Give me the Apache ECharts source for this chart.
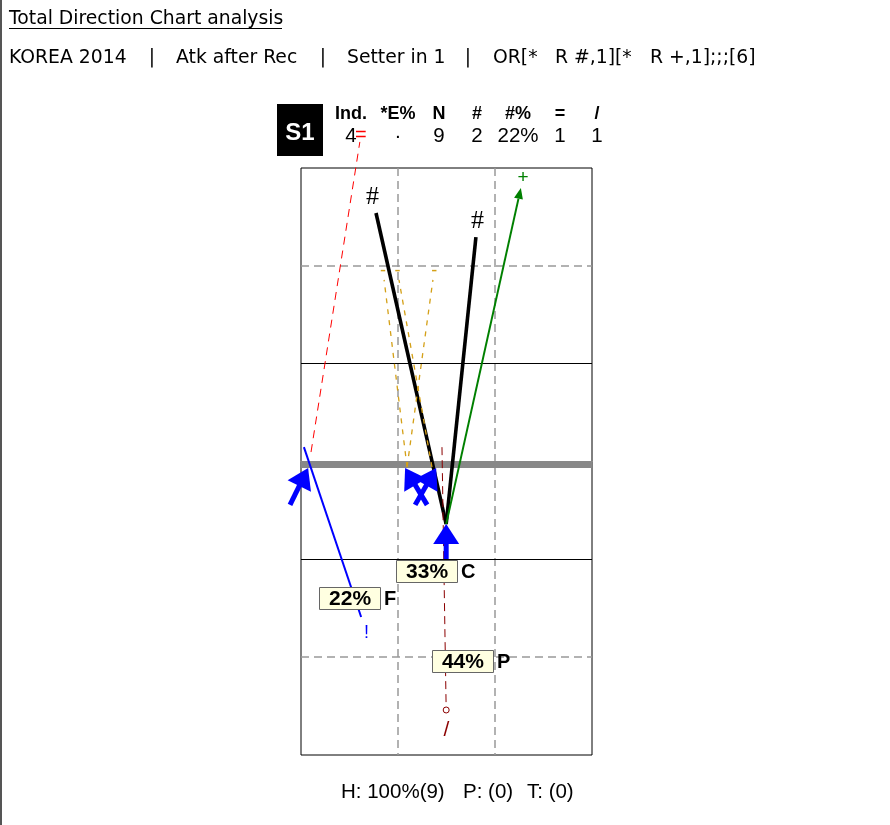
<!DOCTYPE html>
<html><head><meta charset="utf-8">
<script src="https://cdn.jsdelivr.net/npm/echarts@6/dist/echarts.min.js"></script>
<style>html,body{margin:0;padding:0;background:#fff}#c{width:890px;height:825px}</style>
</head><body><div id="c"></div>
<script>
// ---------- data ----------
const titleText = 'Total Direction Chart analysis';
const filterParts = ['KOREA 2014', '|', 'Atk after Rec', '|', 'Setter in 1', '|', 'OR[*', 'R #,1][*', 'R +,1];;;[6]'];
const rotationName = 'S1';
const tableHeaders = ['Ind.', '*E%', 'N', '#', '#%', '=', '/'];
const indValue = '4';
const effValue = '·';

// attacks (court metres: x 0..9 across, y 0..18 from far end line)
const attackZone = ['C', 'C', 'C', 'F', 'F', 'P', 'P', 'P', 'P'];
const attackCode = ['#', '#', '+', '=', '!', '/', '-', '-', '-'];
const attackFrom = [[4.49, 10.92], [4.49, 10.92], [4.49, 10.92], [0.31, 8.71], [0.09, 8.56], [4.36, 8.56], [3.28, 9.17], [3.28, 9.17], [4.05, 9.17]];
const attackTo = [[2.32, 1.38], [5.41, 2.12], [6.80, 0.61], [1.82, -0.80], [1.86, 13.77], [4.49, 16.62], [2.57, 3.43], [4.08, 3.43], [3.03, 3.43]];

// start-direction arrows
const arrowTail = [[-0.34, 10.33], [3.90, 10.33], [3.53, 10.33], [4.49, 11.99]];
const arrowTip = [[0.22, 9.20], [3.22, 9.20], [4.18, 9.20], [4.49, 10.92]];

// zone labels
const zoneNames = ['C', 'F', 'P'];
const zoneLabelAt = [[2.94, 12.36], [0.56, 13.19], [4.05, 15.12]];

// court structure
const courtDashX = [3, 6];
const courtDashY = [3, 15];
const attackLineY = [6, 12];
const netY = 9.08;

// footer counts
const pCount = 0, tCount = 0;

// ---------- styles ----------
const codeStyle = {
  '#': { color: '#000000', width: 3.6, dash: null, head: 0, circle: false, font: '26px "Liberation Serif"', gap: 16 },
  '+': { color: '#008000', width: 2, dash: null, head: 11, circle: false, font: '19px "Liberation Sans"', gap: 10 },
  '=': { color: '#ff0000', width: 1, dash: [8, 6], head: 0, circle: false, font: '20px "Liberation Sans"', gap: 7 },
  '!': { color: '#0000ff', width: 2, dash: null, head: 0, circle: false, font: '18px "Liberation Sans"', gap: 17 },
  '/': { color: '#8b0000', width: 1, dash: [8, 5], head: 0, circle: true, font: '21px "Liberation Sans"', gap: 20 },
  '-': { color: '#d4a017', width: 1.3, dash: [5, 6], head: 0, circle: false, font: '18px "Liberation Sans"', gap: 9 }
};

// ---------- derived ----------
const total = attackCode.length;
const cnt = c => attackCode.filter(v => v === c).length;
const pct = (a, b) => Math.round(a / b * 100) + '%';
const tableValues = [indValue, effValue, String(total), String(cnt('#')), pct(cnt('#'), total), String(cnt('=')), String(cnt('/'))];
const zoneCounts = zoneNames.map(z => attackZone.filter(v => v === z).length);
const footerParts = ['H: ' + pct(total, total) + '(' + total + ')', 'P: (' + pCount + ')', 'T: (' + tCount + ')'];

const courtDashData = courtDashX.map(x => ({ coords: [[x, 0], [x, 18]] }))
  .concat(courtDashY.map(y => ({ coords: [[0, y], [9, y]] })));
const attackLineData = attackLineY.map(y => ({ coords: [[0, y], [9, y]] }));

// ---------- layout ----------
const tableX = [351, 398, 439, 477, 518, 560, 597];
const partX = [9, 152, 176, 323, 347, 468, 493, 555, 650];
const footerX = [341, 463, 527];
const headFont = '18.8px "DejaVu Sans"';

const graphic = [
  { type: 'line', shape: { x1: 1, y1: 0, x2: 1, y2: 825 }, style: { stroke: '#555', lineWidth: 2 } },
  { type: 'text', x: 9, y: 19, style: { text: titleText, font: headFont, fill: '#000', textVerticalAlign: 'middle', verticalAlign: 'middle' } },
  { type: 'line', shape: { x1: 9, y1: 28.5, x2: 282, y2: 28.5 }, style: { stroke: '#000', lineWidth: 1 } },
  { type: 'rect', shape: { x: 277, y: 104, width: 46, height: 52 }, style: { fill: '#000' } },
  { type: 'text', x: 300, y: 133, style: { text: rotationName, font: 'bold 24px "Liberation Sans"', fill: '#fff', textAlign: 'center', align: 'center', textVerticalAlign: 'middle', verticalAlign: 'middle' } }
];
footerParts.forEach((t, i) => {
  graphic.push({ type: 'text', x: footerX[i], y: 792, style: { text: t, font: '20.5px "Liberation Sans"', fill: '#000', textAlign: 'left', align: 'left', textVerticalAlign: 'middle', verticalAlign: 'middle' } });
});
filterParts.forEach((t, i) => {
  const center = t === '|';
  graphic.push({ type: 'text', x: partX[i], y: 58, style: { text: t, font: headFont, fill: '#000', textAlign: center ? 'center' : 'left', align: center ? 'center' : 'left', textVerticalAlign: 'middle', verticalAlign: 'middle' } });
});
tableHeaders.forEach((t, i) => {
  graphic.push({ type: 'text', x: tableX[i], y: 114, style: { text: t, font: 'bold 18px "Liberation Sans"', fill: '#000', textAlign: 'center', align: 'center', textVerticalAlign: 'middle', verticalAlign: 'middle' } });
  graphic.push({ type: 'text', x: tableX[i], y: 136, style: { text: tableValues[i], font: '20.5px "Liberation Sans"', fill: '#000', textAlign: 'center', align: 'center', textVerticalAlign: 'middle', verticalAlign: 'middle' } });
});

function headPoints(p1, ux, uy, L, W) {
  const bx = p1[0] - ux * L, by = p1[1] - uy * L;
  return { base: [bx, by], pts: [[p1[0], p1[1]], [bx - uy * W, by + ux * W], [bx + uy * W, by - ux * W]] };
}
const centerText = { textAlign: 'center', align: 'center', textVerticalAlign: 'middle', verticalAlign: 'middle' };

const chart = echarts.init(document.getElementById('c'), null, { renderer: 'canvas' });
chart.setOption({
  animation: false,
  backgroundColor: '#fff',
  graphic: graphic,
  grid: { left: 301, top: 168, width: 291, height: 587, show: true, borderColor: '#000', borderWidth: 1, backgroundColor: '#fff', containLabel: false },
  xAxis: { type: 'value', min: 0, max: 9, show: false },
  yAxis: { type: 'value', min: 0, max: 18, inverse: true, show: false },
  series: [
    { type: 'lines', coordinateSystem: 'cartesian2d', z: 1, clip: false, silent: true,
      data: courtDashData, lineStyle: { color: '#999', width: 1.5, type: [8, 5], opacity: 1 } },
    { type: 'lines', coordinateSystem: 'cartesian2d', z: 1, clip: false, silent: true,
      data: attackLineData, lineStyle: { color: '#000', width: 1, opacity: 1 } },
    { type: 'lines', coordinateSystem: 'cartesian2d', z: 1, clip: false, silent: true,
      data: [{ coords: [[0, netY], [9, netY]] }], lineStyle: { color: '#888', width: 7, opacity: 1 } },
    { type: 'custom', coordinateSystem: 'cartesian2d', z: 2, clip: false, silent: true,
      data: attackCode.map((c, i) => [attackFrom[i][0], attackFrom[i][1], attackTo[i][0], attackTo[i][1], i]),
      encode: { x: [0, 2], y: [1, 3] },
      renderItem: function (params, api) {
        const i = api.value(4);
        const code = attackCode[i];
        const s = codeStyle[code];
        const p0 = api.coord([api.value(0), api.value(1)]);
        const p1 = api.coord([api.value(2), api.value(3)]);
        const dx = p1[0] - p0[0], dy = p1[1] - p0[1];
        const len = Math.hypot(dx, dy), ux = dx / len, uy = dy / len;
        const children = [];
        let end = p1;
        let hp = null;
        if (s.head) { hp = headPoints(p1, ux, uy, s.head, 4.5); end = hp.base; }
        children.push({ type: 'line', shape: { x1: p0[0], y1: p0[1], x2: end[0], y2: end[1] },
          style: { stroke: s.color, lineWidth: s.width, lineDash: s.dash || null, fill: null } });
        if (hp) children.push({ type: 'polygon', shape: { points: hp.pts }, style: { fill: s.color } });
        if (s.circle) children.push({ type: 'circle', shape: { cx: p1[0], cy: p1[1], r: 3 }, style: { fill: '#fff', stroke: s.color, lineWidth: 1 } });
        children.push({ type: 'text', x: p1[0] + ux * s.gap, y: p1[1] + uy * s.gap,
          style: Object.assign({ text: code, font: s.font, fill: s.color }, centerText) });
        return { type: 'group', children: children };
      } },
    { type: 'custom', coordinateSystem: 'cartesian2d', z: 3, clip: false, silent: true,
      data: arrowTail.map((t, i) => [t[0], t[1], arrowTip[i][0], arrowTip[i][1]]),
      encode: { x: [0, 2], y: [1, 3] },
      renderItem: function (params, api) {
        const p0 = api.coord([api.value(0), api.value(1)]);
        const p1 = api.coord([api.value(2), api.value(3)]);
        const dx = p1[0] - p0[0], dy = p1[1] - p0[1];
        const len = Math.hypot(dx, dy), ux = dx / len, uy = dy / len;
        const hp = headPoints(p1, ux, uy, 20, 13);
        return { type: 'group', children: [
          { type: 'line', shape: { x1: p0[0], y1: p0[1], x2: hp.base[0] + ux * 2, y2: hp.base[1] + uy * 2 }, style: { stroke: '#0000ff', lineWidth: 5 } },
          { type: 'polygon', shape: { points: hp.pts }, style: { fill: '#0000ff' } }
        ] };
      } },
    { type: 'custom', coordinateSystem: 'cartesian2d', z: 4, clip: false, silent: true,
      data: zoneNames.map((z, i) => [zoneLabelAt[i][0], zoneLabelAt[i][1], i]),
      encode: { x: 0, y: 1 },
      renderItem: function (params, api) {
        const i = api.value(2);
        const p = api.coord([api.value(0), api.value(1)]);
        const w = 61, h = 22;
        return { type: 'group', children: [
          { type: 'rect', shape: { x: Math.round(p[0]) + 0.5, y: Math.round(p[1] - h / 2) + 0.5, width: w, height: h },
            style: { fill: '#ffffe1', stroke: '#666', lineWidth: 1 } },
          { type: 'text', x: p[0] + w / 2 + 0.5, y: p[1] + 1.5,
            style: Object.assign({ text: pct(zoneCounts[i], total), font: 'bold 21px "Liberation Sans"', fill: '#000' }, centerText) },
          { type: 'text', x: p[0] + w + 4, y: p[1] + 1.5,
            style: { text: zoneNames[i], font: 'bold 20px "Liberation Sans"', fill: '#000', textAlign: 'left', align: 'left', textVerticalAlign: 'middle', verticalAlign: 'middle' } }
        ] };
      } }
  ]
});
</script></body></html>
